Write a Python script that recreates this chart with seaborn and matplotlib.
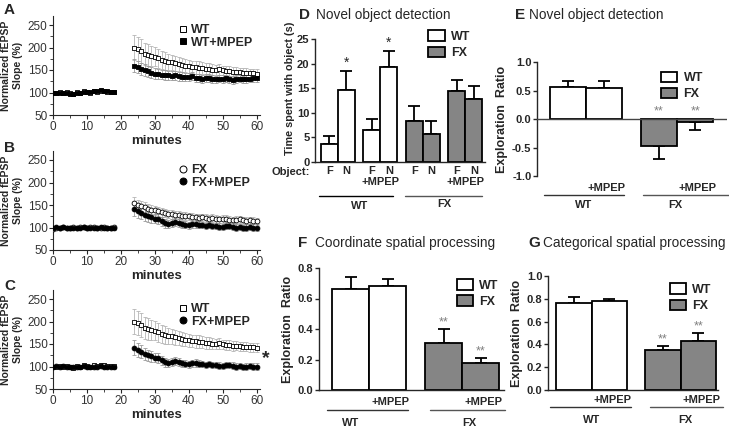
import numpy as np
import pandas as pd
import matplotlib
matplotlib.use("Agg")
import matplotlib.pyplot as plt
from matplotlib.lines import Line2D
from matplotlib.patches import Patch
from matplotlib.ticker import AutoMinorLocator, MultipleLocator, FormatStrFormatter
import seaborn as sns

sns.set_style("ticks")
plt.rcParams['font.family'] = ['Liberation Sans', 'DejaVu Sans']

# ---------------- LTP time courses (A-C) ----------------
base_min = list(range(0, 19))
post_min = list(range(24, 61))
minutes = base_min + post_min

wt_mean = [98, 100, 101, 100, 102, 99, 97, 101, 100, 103, 102, 100, 104, 102, 103, 104, 101, 102, 102,
           200, 196, 192, 186, 184, 182, 180, 176, 172, 170, 168, 167, 165, 163, 161, 160, 158, 157,
           156, 155, 154, 153, 152, 151, 150, 152, 149, 147, 147, 146, 146, 145, 144, 144, 143, 143, 142]
wt_err = [4, 4, 4, 4, 4, 4, 4, 4, 4, 4, 4, 4, 4, 4, 4, 4, 4, 4, 4,
          28, 27, 26, 25, 24, 22, 22, 21, 20, 19, 18, 17, 17, 16, 16, 15, 15, 14,
          14, 14, 13, 13, 13, 12, 12, 12, 11, 11, 11, 11, 10, 10, 10, 10, 10, 10, 10]

wtm_mean = [99, 99, 100, 98, 99, 97, 96, 99, 100, 101, 102, 101, 103, 104, 105, 104, 103, 102, 101,
            160, 157, 152, 150, 147, 144, 142, 141, 140, 139, 138, 137, 138, 136, 135, 135, 134, 136,
            133, 132, 131, 132, 133, 130, 129, 131, 130, 132, 129, 128, 130, 131, 129, 130, 131, 132, 132]
wtm_err = [4, 4, 4, 4, 4, 4, 4, 4, 4, 4, 4, 4, 4, 4, 4, 4, 4, 4, 4,
           14, 14, 13, 13, 12, 12, 12, 11, 11, 11, 10, 10, 10, 10, 10, 9, 9, 9,
           9, 9, 9, 9, 9, 8, 8, 8, 8, 8, 8, 8, 8, 8, 8, 8, 8, 8, 8]

fx_mean = [97, 99, 100, 101, 99, 100, 102, 100, 101, 102, 99, 101, 102, 100, 99, 101, 100, 99, 101,
           155, 150, 147, 145, 142, 140, 138, 136, 134, 132, 131, 129, 128, 127, 126, 125, 125, 124,
           123, 122, 123, 121, 120, 121, 119, 118, 119, 120, 117, 116, 117, 118, 116, 115, 116, 115, 114]
fx_err = [4, 4, 4, 4, 4, 4, 4, 4, 4, 4, 4, 4, 4, 4, 4, 4, 4, 4, 4,
          12, 12, 11, 11, 11, 10, 10, 10, 10, 9, 9, 9, 9, 9, 9, 9, 8, 8,
          8, 8, 8, 8, 8, 8, 8, 8, 8, 8, 8, 8, 8, 8, 8, 8, 8, 8, 8]

fxm_mean = [100, 101, 100, 102, 99, 98, 100, 99, 100, 101, 98, 100, 99, 100, 101, 100, 99, 100, 98,
            142, 137, 133, 128, 125, 123, 120, 118, 114, 110, 108, 110, 112, 110, 107, 106, 105, 107,
            108, 106, 105, 104, 106, 104, 103, 102, 101, 103, 104, 102, 100, 101, 99, 100, 101, 100, 100]
fxm_err = [3, 3, 3, 3, 3, 3, 3, 3, 3, 3, 3, 3, 3, 3, 3, 3, 3, 3, 3,
           16, 15, 14, 13, 12, 12, 11, 11, 10, 10, 9, 9, 9, 9, 8, 8, 8, 8,
           8, 8, 7, 7, 7, 7, 7, 7, 7, 7, 7, 7, 7, 7, 7, 7, 7, 7, 7]

# ---------------- D: time with object ----------------
d_group = ["WT", "WT", "WT+MPEP", "WT+MPEP", "FX", "FX", "FX+MPEP", "FX+MPEP"]
d_object = ["F", "N", "F", "N", "F", "N", "F", "N"]
d_mean = [3.7, 14.6, 6.6, 19.3, 8.3, 5.6, 14.5, 12.9]
d_err = [1.6, 3.8, 2.1, 3.3, 3.1, 2.7, 2.1, 2.6]
d_star = ["", "*", "", "*", "", "", "", ""]

# ---------------- E-G: exploration ratio ----------------
geno = ["WT", "WT", "FX", "FX"]
treat = ["ctrl", "+MPEP", "ctrl", "+MPEP"]
e_mean = [0.57, 0.55, -0.48, -0.06]
e_err = [0.10, 0.11, 0.23, 0.14]
f_mean = [0.665, 0.68, 0.31, 0.18]
f_err = [0.075, 0.05, 0.09, 0.03]
g_mean = [0.76, 0.78, 0.35, 0.43]
g_err = [0.06, 0.015, 0.04, 0.07]
stars = ["", "", "**", "**"]

WHITE, GRAY = "white", "#858585"

W, H = 729, 428
fig = plt.figure(figsize=(7.29, 4.28), dpi=100)


def add_ax(x0, y_top, x1, y_bot):
    return fig.add_axes([x0 / W, 1 - y_bot / H, (x1 - x0) / W, (y_bot - y_top) / H])


def ltp_panel(ax, series, letter, ytxt):
    for vals, errs, marker, face, ecol in series:
        ax.errorbar(minutes, vals, yerr=errs, fmt='none', ecolor=ecol,
                    elinewidth=0.6, capsize=1.5, capthick=0.6, zorder=2)
    for vals, errs, marker, face, ecol in series:
        df = pd.DataFrame({"t": minutes, "v": vals})
        sns.scatterplot(data=df, x="t", y="v", marker=marker, s=12, color=face,
                        edgecolor="black", linewidth=0.6, ax=ax, zorder=3)
    ax.set_xlim(0, 61)
    ax.set_ylim(50, 270)
    ax.set_xticks([0, 10, 20, 30, 40, 50, 60])
    ax.set_yticks([50, 100, 150, 200, 250])
    ax.xaxis.set_minor_locator(AutoMinorLocator(2))
    ax.yaxis.set_minor_locator(AutoMinorLocator(2))
    ax.tick_params(labelsize=8.5, labelcolor="#333333", length=3, width=0.8, pad=1)
    ax.tick_params(which="minor", length=2, width=0.6)
    ax.set_xlabel("minutes", fontsize=9.5, fontweight="bold", labelpad=2)
    ax.set_ylabel("Normalized fEPSP\nSlope (%)", fontsize=7.5, fontweight="bold", labelpad=3,
                  linespacing=1.3)
    sns.despine(ax=ax)
    fig.text(4 / W, 1 - ytxt / H, letter, fontsize=11, fontweight="bold", va="center")


def legend_markers(ax, entries, anchor):
    handles = [Line2D([], [], marker=m, linestyle="none", markerfacecolor=f,
                      markeredgecolor="black", markersize=5, markeredgewidth=0.7)
               for m, f, _ in entries]
    ax.legend(handles, [lab for _, _, lab in entries], loc="upper left", bbox_to_anchor=anchor,
              frameon=False, prop={"weight": "bold", "size": 9}, handletextpad=0.1,
              labelspacing=0.05, borderpad=0, handlelength=1.0)


# A
axA = add_ax(53, 16, 260, 115)
ltp_panel(axA, [(wt_mean, wt_err, "s", WHITE, "#b5b5b5"),
                (wtm_mean, wtm_err, "s", "black", "#9a9a9a")], "A", 10)
legend_markers(axA, [("s", WHITE, "WT"), ("s", "black", "WT+MPEP")], (0.57, 0.98))

# B
axB = add_ax(53, 151, 260, 250)
ltp_panel(axB, [(fx_mean, fx_err, "o", WHITE, "#b5b5b5"),
                (fxm_mean, fxm_err, "o", "black", "#9a9a9a")], "B", 148)
legend_markers(axB, [("o", WHITE, "FX"), ("o", "black", "FX+MPEP")], (0.57, 0.93))

# C
axC = add_ax(53, 290, 260, 389)
ltp_panel(axC, [(wt_mean, wt_err, "s", WHITE, "#b5b5b5"),
                (fxm_mean, fxm_err, "o", "black", "#9a9a9a")], "C", 286)
legend_markers(axC, [("s", WHITE, "WT"), ("o", "black", "FX+MPEP")], (0.57, 0.93))
axC.text(1.01, 0.31, "*", transform=axC.transAxes, fontsize=14, fontweight="bold",
         ha="left", va="center")


def title(x_letter, x_text, y, letter, text):
    fig.text(x_letter / W, 1 - y / H, letter, fontsize=11, fontweight="bold", va="center")
    fig.text(x_text / W, 1 - y / H, text, fontsize=9.8, va="center")


def bars(ax, xcol, hue, means, errs, colors):
    df = pd.DataFrame({"x": xcol, "hue": hue, "m": means})
    sns.barplot(data=df, x="x", y="m", hue="hue", width=0.8, errorbar=None, ax=ax,
                legend=False, edgecolor="black", linewidth=1.3, saturation=1)
    patches = sorted(ax.patches, key=lambda p: p.get_x())
    centers = []
    for p, c in zip(patches, colors):
        p.set_facecolor(c)
        p.set_zorder(2)
        centers.append(p.get_x() + p.get_width() / 2)
    lo = [e if m < 0 else 0 for m, e in zip(means, errs)]
    hi = [e if m >= 0 else 0 for m, e in zip(means, errs)]
    ax.errorbar(centers, means, yerr=[lo, hi], fmt="none", ecolor="black", elinewidth=1.3,
                capsize=4.5, capthick=1.3, zorder=1)
    return centers


def bar_legend(ax, anchor):
    handles = [Patch(facecolor=WHITE, edgecolor="black", linewidth=1.3),
               Patch(facecolor=GRAY, edgecolor="black", linewidth=1.3)]
    ax.legend(handles, ["WT", "FX"], loc="upper left", bbox_to_anchor=anchor, frameon=False,
              prop={"weight": "bold", "size": 9}, handlelength=1.3, handleheight=0.9,
              handletextpad=0.5, labelspacing=0.3, borderpad=0)


def style_ratio(ax, ylabel="Exploration  Ratio", ysize=9):
    ax.set_xlabel("")
    ax.set_ylabel(ylabel, fontsize=ysize, fontweight="bold", labelpad=3)
    ax.tick_params(axis="y", labelsize=8, length=3, width=1, pad=1)
    for lab in ax.get_yticklabels():
        lab.set_fontweight("bold")
    ax.set_xticks([])
    sns.despine(ax=ax)
    ax.spines["left"].set_linewidth(1)
    ax.spines["bottom"].set_linewidth(1)


def group_labels(ax, centers, y_mpep, y_line, y_geno, mpep_idx, spans, names, name_x, color_lines):
    tr = ax.get_xaxis_transform()
    for i in mpep_idx:
        ax.text(centers[i] + 0.03, y_mpep, "+MPEP", transform=tr, fontsize=8, fontweight="bold",
                ha="center", va="center", clip_on=False)
    for (a, b), col in zip(spans, color_lines):
        ax.plot([a, b], [y_line, y_line], transform=tr, color=col, lw=1, clip_on=False)
    for nm, x in zip(names, name_x):
        ax.text(x, y_geno, nm, transform=tr, fontsize=8, fontweight="bold", ha="center",
                va="center", clip_on=False)


# D
axD = add_ax(315, 39, 485, 162)
d_colors = [WHITE if g.startswith("WT") else GRAY for g in d_group]
cD = bars(axD, d_group, d_object, d_mean, d_err, d_colors)
axD.set_xlim(-0.54, 3.46)
axD.set_ylim(0, 25)
axD.yaxis.set_major_locator(MultipleLocator(5))
style_ratio(axD, "Time spent with object (s)", ysize=7.8)
axD.yaxis.set_label_coords(-0.12, 0.6)
axD.set_xticks(cD)
axD.set_xticklabels(d_object, fontsize=8, fontweight="bold")
axD.tick_params(axis="x", length=0, pad=3)
for c, m, e, s in zip(cD, d_mean, d_err, d_star):
    if s:
        axD.text(c, m + e + 0.3, s, ha="center", va="bottom", fontsize=10)
axD.text(-1.12, -0.08, "Object:", transform=axD.get_xaxis_transform(), fontsize=8,
         fontweight="bold", ha="center", va="center", clip_on=False)
trD = axD.get_xaxis_transform()
axD.text((cD[2] + cD[3]) / 2, -0.165, "+MPEP", transform=trD, fontsize=8, fontweight="bold",
         ha="center", va="center")
axD.text((cD[6] + cD[7]) / 2, -0.165, "+MPEP", transform=trD, fontsize=8, fontweight="bold",
         ha="center", va="center")
axD.plot([-0.45, 1.3], [-0.275, -0.275], transform=trD, color="black", lw=1, clip_on=False)
axD.plot([1.58, 3.38], [-0.275, -0.275], transform=trD, color="#555555", lw=1, clip_on=False)
axD.text(0.5, -0.36, "WT", transform=trD, fontsize=8, fontweight="bold", ha="center", va="center")
axD.text(2.5, -0.34, "FX", transform=trD, fontsize=8, fontweight="bold", ha="center", va="center")
bar_legend(axD, (0.63, 1.12))
title(299, 316, 15, "D", "Novel object detection")

# E
axE = add_ax(537, 62, 727, 176)
colors = [WHITE, WHITE, GRAY, GRAY]
cE = bars(axE, geno, treat, e_mean, e_err, colors)
axE.set_xlim(-0.54, 1.55)
axE.set_ylim(-1, 1)
axE.yaxis.set_major_locator(MultipleLocator(0.5))
axE.yaxis.set_major_formatter(FormatStrFormatter("%.1f"))
style_ratio(axE)
axE.spines["bottom"].set_visible(False)
axE.axhline(0, color="#444444", lw=1, zorder=3)
for c, s in zip(cE, stars):
    if s:
        axE.text(c, 0.02, s, ha="center", va="bottom", fontsize=9, color="#808080")
group_labels(axE, cE, -0.105, -0.165, -0.255, [1, 3], [(-0.46, 0.42), (0.63, 1.6)],
             ["WT", "FX"], [-0.03, 0.98], ["#333333", "#555555"])
bar_legend(axE, (0.62, 0.97))
title(515, 529, 15, "E", "Novel object detection")

# F
axF = add_ax(319, 268, 504, 390)
cF = bars(axF, geno, treat, f_mean, f_err, colors)
axF.set_xlim(-0.54, 1.45)
axF.set_ylim(0, 0.8)
axF.yaxis.set_major_locator(MultipleLocator(0.2))
axF.yaxis.set_major_formatter(FormatStrFormatter("%.1f"))
style_ratio(axF)
for c, m, e, s in zip(cF, f_mean, f_err, stars):
    if s:
        axF.text(c, m + e + 0.005, s, ha="center", va="bottom", fontsize=9, color="#808080")
group_labels(axF, cF, -0.1, -0.165, -0.27, [1, 3], [(-0.45, 0.42), (0.65, 1.46)],
             ["WT", "FX"], [-0.2, 1.08], ["#333333", "#555555"])
bar_legend(axF, (0.71, 0.96))
title(298, 315, 243, "F", "Coordinate spatial processing")

# G
axG = add_ax(548, 276, 718, 390)
cG = bars(axG, geno, treat, g_mean, g_err, colors)
axG.set_xlim(-0.49, 1.42)
axG.set_ylim(0, 1)
axG.yaxis.set_major_locator(MultipleLocator(0.2))
axG.yaxis.set_major_formatter(FormatStrFormatter("%.1f"))
style_ratio(axG)
for c, m, e, s in zip(cG, g_mean, g_err, stars):
    if s:
        axG.text(c, m + e + 0.005, s, ha="center", va="bottom", fontsize=9, color="#808080")
group_labels(axG, cG, -0.09, -0.15, -0.265, [1, 3], [(-0.47, 0.44), (0.66, 1.48)],
             ["WT", "FX"], [0.0, 1.05], ["#333333", "#555555"])
bar_legend(axG, (0.68, 0.99))
title(528, 543, 243, "G", "Categorical spatial processing")

fig.savefig("out.png", dpi=100)
